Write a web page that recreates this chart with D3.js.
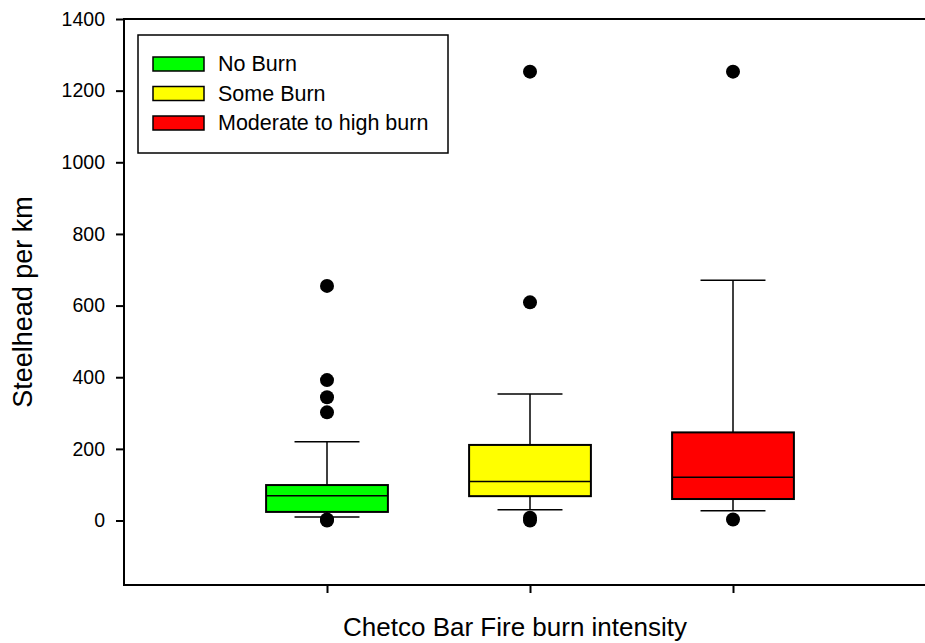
<!DOCTYPE html>
<html>
<head>
<meta charset="utf-8">
<script src="https://cdn.jsdelivr.net/npm/d3@7"></script>
<style>
  body { margin: 0; background: #fff; }
  svg { display: block; font-family: "Liberation Sans", Arial, sans-serif; }
</style>
</head>
<body>
<div id="chart"></div>
<script>
// Data
var categories = ["No Burn", "Some Burn", "Moderate to high burn"];
var colors = ["#00ff00", "#ffff00", "#ff0000"];
var q1 = [24, 68, 60];
var medians = [69, 109, 121];
var q3 = [99, 211, 246];
var whiskerLow = [10, 30, 27];
var whiskerHigh = [220, 353, 671];
var outliers = [
  [0, 3, 302, 344, 392, 655],
  [0, 8, 609, 1253],
  [3, 1253]
];
var yTicks = [0, 200, 400, 600, 800, 1000, 1200, 1400];

// Margin conventions
var width = 925, height = 643;
var plotLeft = 124, plotRight = 936, plotTop = 19, plotBottom = 585;

var svg = d3.select("#chart")
  .append("svg")
  .attr("width", width)
  .attr("height", height);

// Scales
var xScale = d3.scaleLinear()
  .domain([0, 4])
  .range([plotLeft, plotRight]);

var yScale = d3.scaleLinear()
  .domain([-180, 1400])
  .range([plotBottom, plotTop]);

var boxW = 0.6, capW = 0.16;

// Frame (top and right lines)
svg.append("line")
  .attr("x1", plotLeft).attr("x2", plotRight)
  .attr("y1", plotTop).attr("y2", plotTop)
  .style("stroke", "#000").style("stroke-width", 2);
svg.append("line")
  .attr("x1", plotRight).attr("x2", plotRight)
  .attr("y1", plotTop).attr("y2", plotBottom)
  .style("stroke", "#000").style("stroke-width", 2);

// Y axis
var yAxis = d3.axisLeft(yScale)
  .tickValues(yTicks)
  .tickSize(8)
  .tickPadding(11)
  .tickFormat(d3.format("d"))
  .tickSizeOuter(0);

var yAxisGroup = svg.append("g")
  .attr("transform", "translate(" + plotLeft + ",0)")
  .call(yAxis);
yAxisGroup.select(".domain").remove();
yAxisGroup.selectAll(".tick line").style("stroke", "#000").style("stroke-width", 2);
yAxisGroup.selectAll(".tick text")
  .style("font-size", "19.5px")
  .style("font-family", "Liberation Sans, Arial, sans-serif")
  .style("fill", "#000");
svg.append("line")
  .attr("x1", plotLeft).attr("x2", plotLeft)
  .attr("y1", plotTop - 1).attr("y2", plotBottom + 1)
  .style("stroke", "#000").style("stroke-width", 2);

// X axis
var xAxis = d3.axisBottom(xScale)
  .tickValues([1, 2, 3])
  .tickSize(8)
  .tickFormat("")
  .tickSizeOuter(0);

var xAxisGroup = svg.append("g")
  .attr("transform", "translate(0," + plotBottom + ")")
  .call(xAxis);
xAxisGroup.select(".domain").remove();
xAxisGroup.selectAll(".tick line").style("stroke", "#000").style("stroke-width", 2);
svg.append("line")
  .attr("x1", plotLeft - 1).attr("x2", plotRight)
  .attr("y1", plotBottom).attr("y2", plotBottom)
  .style("stroke", "#000").style("stroke-width", 2);

// Boxes
var boxes = svg.selectAll("g.box")
  .data(categories)
  .enter()
  .append("g")
  .attr("class", "box");

// whiskers
boxes.append("line")
  .attr("x1", function(d, i) { return xScale(i + 1); })
  .attr("x2", function(d, i) { return xScale(i + 1); })
  .attr("y1", function(d, i) { return yScale(q3[i]); })
  .attr("y2", function(d, i) { return yScale(whiskerHigh[i]); })
  .style("stroke", "#000").style("stroke-width", 1.5);
boxes.append("line")
  .attr("x1", function(d, i) { return xScale(i + 1); })
  .attr("x2", function(d, i) { return xScale(i + 1); })
  .attr("y1", function(d, i) { return yScale(q1[i]); })
  .attr("y2", function(d, i) { return yScale(whiskerLow[i]); })
  .style("stroke", "#000").style("stroke-width", 1.5);

// caps
boxes.append("line")
  .attr("x1", function(d, i) { return xScale(i + 1 - capW); })
  .attr("x2", function(d, i) { return xScale(i + 1 + capW); })
  .attr("y1", function(d, i) { return yScale(whiskerHigh[i]); })
  .attr("y2", function(d, i) { return yScale(whiskerHigh[i]); })
  .style("stroke", "#000").style("stroke-width", 1.5);
boxes.append("line")
  .attr("x1", function(d, i) { return xScale(i + 1 - capW); })
  .attr("x2", function(d, i) { return xScale(i + 1 + capW); })
  .attr("y1", function(d, i) { return yScale(whiskerLow[i]); })
  .attr("y2", function(d, i) { return yScale(whiskerLow[i]); })
  .style("stroke", "#000").style("stroke-width", 1.5);

// the box itself
boxes.append("rect")
  .attr("x", function(d, i) { return xScale(i + 1 - boxW / 2); })
  .attr("width", function(d, i) { return xScale(i + 1 + boxW / 2) - xScale(i + 1 - boxW / 2); })
  .attr("y", function(d, i) { return yScale(q3[i]); })
  .attr("height", function(d, i) { return yScale(q1[i]) - yScale(q3[i]); })
  .style("fill", function(d, i) { return colors[i]; })
  .style("stroke", "#000")
  .style("stroke-width", 2);

// median
boxes.append("line")
  .attr("x1", function(d, i) { return xScale(i + 1 - boxW / 2); })
  .attr("x2", function(d, i) { return xScale(i + 1 + boxW / 2); })
  .attr("y1", function(d, i) { return yScale(medians[i]); })
  .attr("y2", function(d, i) { return yScale(medians[i]); })
  .style("stroke", "#000").style("stroke-width", 1.5);

// outliers
boxes.each(function(d, i) {
  d3.select(this).selectAll("circle")
    .data(outliers[i])
    .enter()
    .append("circle")
    .attr("cx", xScale(i + 1))
    .attr("cy", function(v) { return yScale(v); })
    .attr("r", 7)
    .style("fill", "#000");
});

// Legend
var legend = svg.append("g").attr("transform", "translate(138,35)");
legend.append("rect")
  .attr("width", 310).attr("height", 118)
  .style("fill", "#fff")
  .style("stroke", "#000")
  .style("stroke-width", 1.5);

var items = legend.selectAll("g.item")
  .data(categories)
  .enter()
  .append("g")
  .attr("class", "item")
  .attr("transform", function(d, i) { return "translate(15," + (22 + i * 29.5) + ")"; });

items.append("rect")
  .attr("width", 51).attr("height", 14)
  .style("fill", function(d, i) { return colors[i]; })
  .style("stroke", "#000")
  .style("stroke-width", 1.5);

items.append("text")
  .attr("x", 65)
  .attr("y", 14)
  .style("font-size", "21.5px")
  .style("fill", "#000")
  .text(function(d) { return d; });

// Axis titles
svg.append("text")
  .attr("x", 515)
  .attr("y", 636)
  .attr("text-anchor", "middle")
  .style("font-size", "26px")
  .style("fill", "#000")
  .text("Chetco Bar Fire burn intensity");

svg.append("text")
  .attr("transform", "translate(32,302) rotate(-90)")
  .attr("text-anchor", "middle")
  .style("font-size", "27px")
  .style("fill", "#000")
  .text("Steelhead per km");
</script>
</body>
</html>
